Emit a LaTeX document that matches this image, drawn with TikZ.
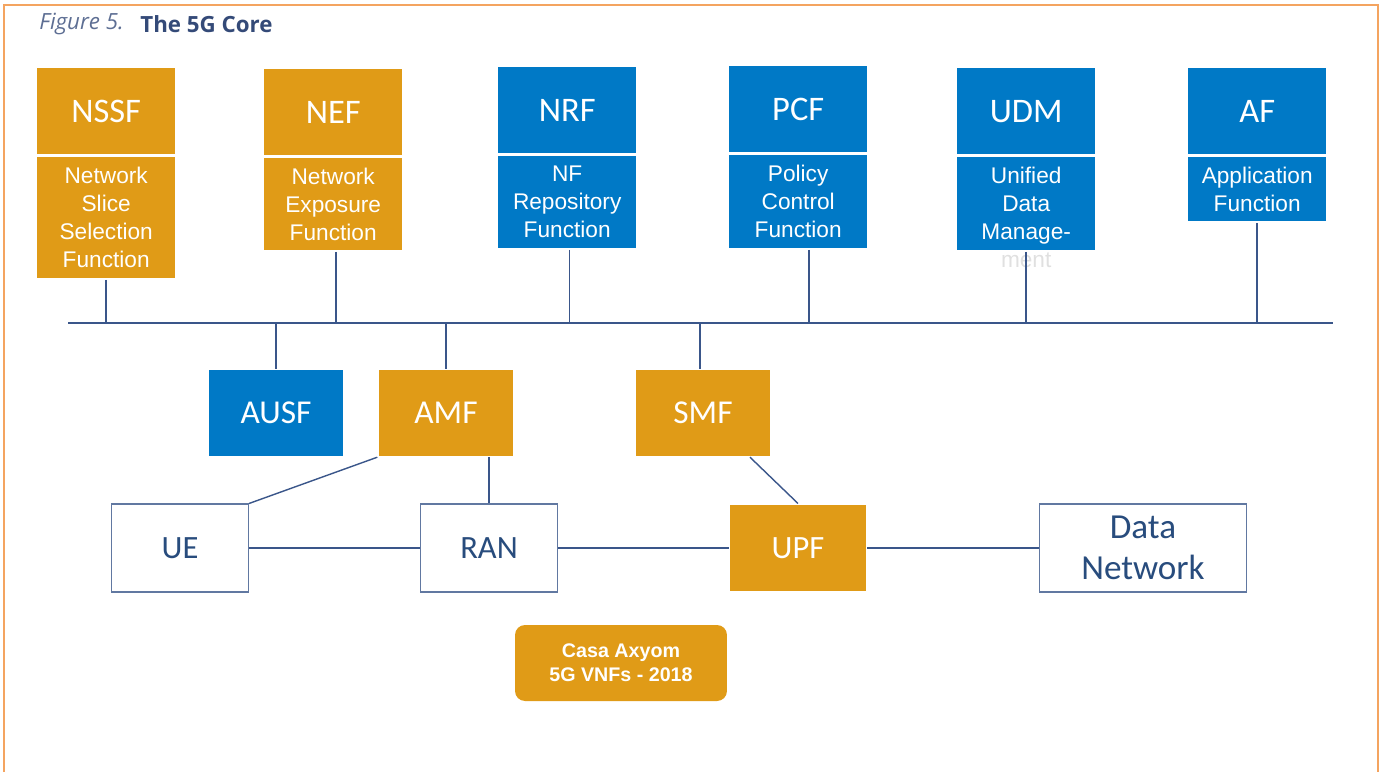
\documentclass[tikz,border=0pt]{standalone}
\usepackage{fontspec}
\setmainfont{Liberation Sans}
\newfontfamily\calibri{Carlito}
\newfontfamily\opensans{Open Sans}
\usetikzlibrary{positioning}

\definecolor{nforange}{RGB}{224,155,23}
\definecolor{nfblue}{RGB}{0,121,198}
\definecolor{wire}{RGB}{58,86,138}
\definecolor{navy}{RGB}{40,76,125}
\definecolor{framecol}{RGB}{244,164,96}
\definecolor{titlecol}{RGB}{52,74,120}

\begin{document}
\begin{tikzpicture}[
		x=0.02cm, y=-0.02cm,
		node distance=0pt,
		nfhead/.style={draw=white,line width=0.8pt,minimum width=2.78cm,minimum height=1.74cm,
			anchor=north west,text=white,font=\calibri\fontsize{19.6}{23}\selectfont},
		nfdesc/.style={draw=white,line width=0.8pt,minimum width=2.78cm,inner sep=0pt,
			text=white,align=center,font=\fontsize{12.9}{16}\selectfont},
		corebox/.style={draw=white,line width=0.8pt,minimum width=2.72cm,minimum height=1.74cm,
			text=white,font=\calibri\fontsize{19}{22}\selectfont},
		edgebox/.style={draw=wire!80,line width=0.6pt,fill=white,minimum width=2.74cm,minimum height=1.76cm,
			text=navy,font=\calibri\fontsize{18.5}{22}\selectfont},
		wireline/.style={draw=wire,line width=0.8pt}
		]
		\useasboundingbox (0,0) rectangle (1380,772);
		% frame and title
		\draw[framecol,line width=1.2pt] (4,772) -- (4,5) -- (1378,5) -- (1378,772);
		\node[anchor=west,inner sep=0pt,text=titlecol!80,font=\opensans\itshape\fontsize{12.7}{15}\selectfont] (fig) at (39,24) {Figure 5.};
		\node[anchor=west,inner sep=0pt,text=titlecol,font=\opensans\bfseries\fontsize{12.7}{15}\selectfont] (title) at (140,24) {The 5G Core};

		% upper network functions
		\node[nfhead,fill=nforange] (nssf) at (36,67) {NSSF};
		\node[nfdesc,fill=nforange,minimum height=2.46cm,below=of nssf] (nssfd) {Network\\Slice\\Selection\\Function};
		\node[nfhead,fill=nforange] (nef) at (263,68) {NEF};
		\node[nfdesc,fill=nforange,minimum height=1.88cm,below=of nef] (nefd) {Network\\Exposure\\Function};
		\node[nfhead,fill=nfblue] (nrf) at (497,66) {NRF};
		\node[nfdesc,fill=nfblue,minimum height=1.88cm,below=of nrf] (nrfd) {NF\\Repository\\Function};
		\node[nfhead,fill=nfblue] (pcf) at (728,65) {PCF};
		\node[nfdesc,fill=nfblue,minimum height=1.9cm,below=of pcf] (pcfd) {Policy\\Control\\Function};
		\node[nfhead,fill=nfblue] (udm) at (956,67) {UDM};
		\node[nfdesc,fill=nfblue,minimum height=1.9cm,below=of udm] (udmd) {};
		\node[nfdesc,draw=none,at=(udmd.center),yshift=-0.28cm] (udmt) {Unified\\Data\\Manage-\\\textcolor{black!12}{ment}};
		\node[nfhead,fill=nfblue] (af) at (1187,67) {AF};
		\node[nfdesc,fill=nfblue,minimum height=1.32cm,below=of af] (afd) {Application\\Function};

		% service bus
		\coordinate (busl) at (68,323);
		\coordinate (busr) at (1333,323);
		\draw[wireline] (busl) -- (busr);

		% core functions below the bus
		\node[corebox,fill=nfblue] (ausf) at (276,413) {AUSF};
		\node[corebox,fill=nforange] (amf) at (446,413) {AMF};
		\node[corebox,fill=nforange] (smf) at (703,413) {SMF};

		% user plane
		\node[edgebox] (ue) at (180,548) {UE};
		\node[edgebox] (ran) at (489,548) {RAN};
		\node[edgebox,fill=nforange,draw=white,text=white] (upf) at (798,548) {UPF};
		\node[edgebox,minimum width=4.14cm,align=center,font=\calibri\fontsize{20}{23}\selectfont] (dn) at (1143,548) {Data\\Network};

		\node[fill=nforange,rounded corners=0.2cm,minimum width=4.24cm,minimum height=1.52cm,align=center,
			text=white,font=\bfseries\fontsize{11.2}{13.6}\selectfont] (casa) at (621,663) {Casa Axyom\\5G VNFs - 2018};

		% links to the bus
		\draw[wireline] (nssfd.south) -- (nssfd.south |- busl);
		\draw[wireline] ([xshift=0.06cm]nefd.south) -- ([xshift=0.06cm]nefd.south |- busl);
		\draw[wireline] ([xshift=0.05cm]nrfd.south) -- ([xshift=0.05cm]nrfd.south |- busl);
		\draw[wireline] ([xshift=0.22cm]pcfd.south) -- ([xshift=0.22cm]pcfd.south |- busl);
		\draw[wireline] (udmd.south) -- (udmd.south |- busl);
		\draw[wireline] (afd.south) -- (afd.south |- busl);
		\draw[wireline] (ausf.north) -- (ausf.north |- busl);
		\draw[wireline] (amf.north) -- (amf.north |- busl);
		\draw[wireline] ([xshift=-0.06cm]smf.north) -- ([xshift=-0.06cm]smf.north |- busl);

		% other links
		\draw[wireline] (amf.south west) -- (ue.north east);
		\draw[wireline] (ran.north) -- (ran.north |- amf.south);
		\draw[wireline] ([xshift=0.94cm]smf.south) -- (upf.north);
		\draw[wireline] (ue) -- (ran);
		\draw[wireline] (ran) -- (upf);
		\draw[wireline] (upf) -- (dn);
	\end{tikzpicture}
\end{document}
